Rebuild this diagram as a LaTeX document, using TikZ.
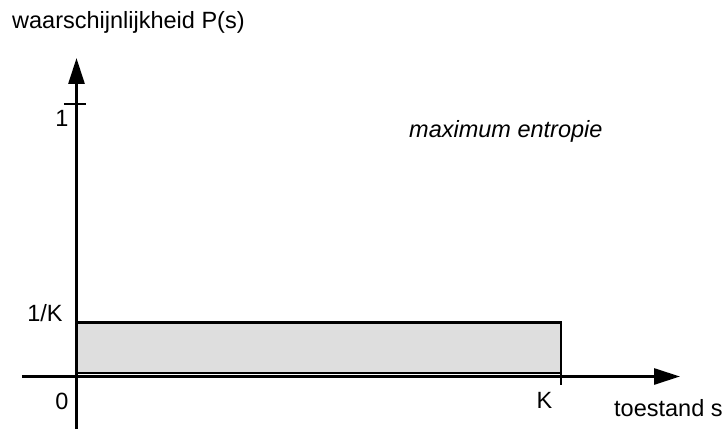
\documentclass[tikz,border=0pt]{standalone}
\usepackage{fontspec}
\setmainfont{Liberation Sans}
\usepackage{tikz}
\usetikzlibrary{arrows.meta}
\tikzset{
  axis/.style={line width=2.8pt, -{Triangle[length=26pt,width=16pt]}},
  lbl/.style={inner sep=0pt, font=\fontsize{23.5}{28}\selectfont}
}
\begin{document}
\begin{tikzpicture}[x=1pt,y=1pt]
%Kansverdeling met maximum entropie
  \useasboundingbox (-76.5,-52.5) rectangle (648.5,376.5);
  \coordinate (O) at (0,0);
  \coordinate (ytop) at (0,318.5);
  \coordinate (ybot) at (0,-52.5);
  \coordinate (xleft) at (-54.5,0);
  \coordinate (xright) at (603.5,0);
  \filldraw[fill=black!13, line width=2.4pt] (0,3.5) rectangle (484.5,54);
  \draw[axis] (ybot) -- (ytop);
  \draw[axis] (xleft) -- (xright);
  \draw[line width=2.4pt] (-12.5,272.5) -- (9.5,272.5);
  \draw[line width=2.4pt] (484.5,3.5) -- (484.5,-8.5);
  \node[lbl, anchor=base west] at (-64.5,348) {waarschijnlijkheid P(s)};
  \node[lbl, anchor=base west] at (332.5,238.5) {\itshape maximum entropie};
  \node[lbl, anchor=base] at (-14.5,249.5) {1};
  \node[lbl, anchor=base] at (-31.5,55.5) {1/K};
  \node[lbl, anchor=base] at (-14.5,-32.5) {0};
  \node[lbl, anchor=base] at (468,-31.5) {K};
  \node[lbl, anchor=base west] at (537.5,-39.5) {toestand s};
\end{tikzpicture}
\end{document}
